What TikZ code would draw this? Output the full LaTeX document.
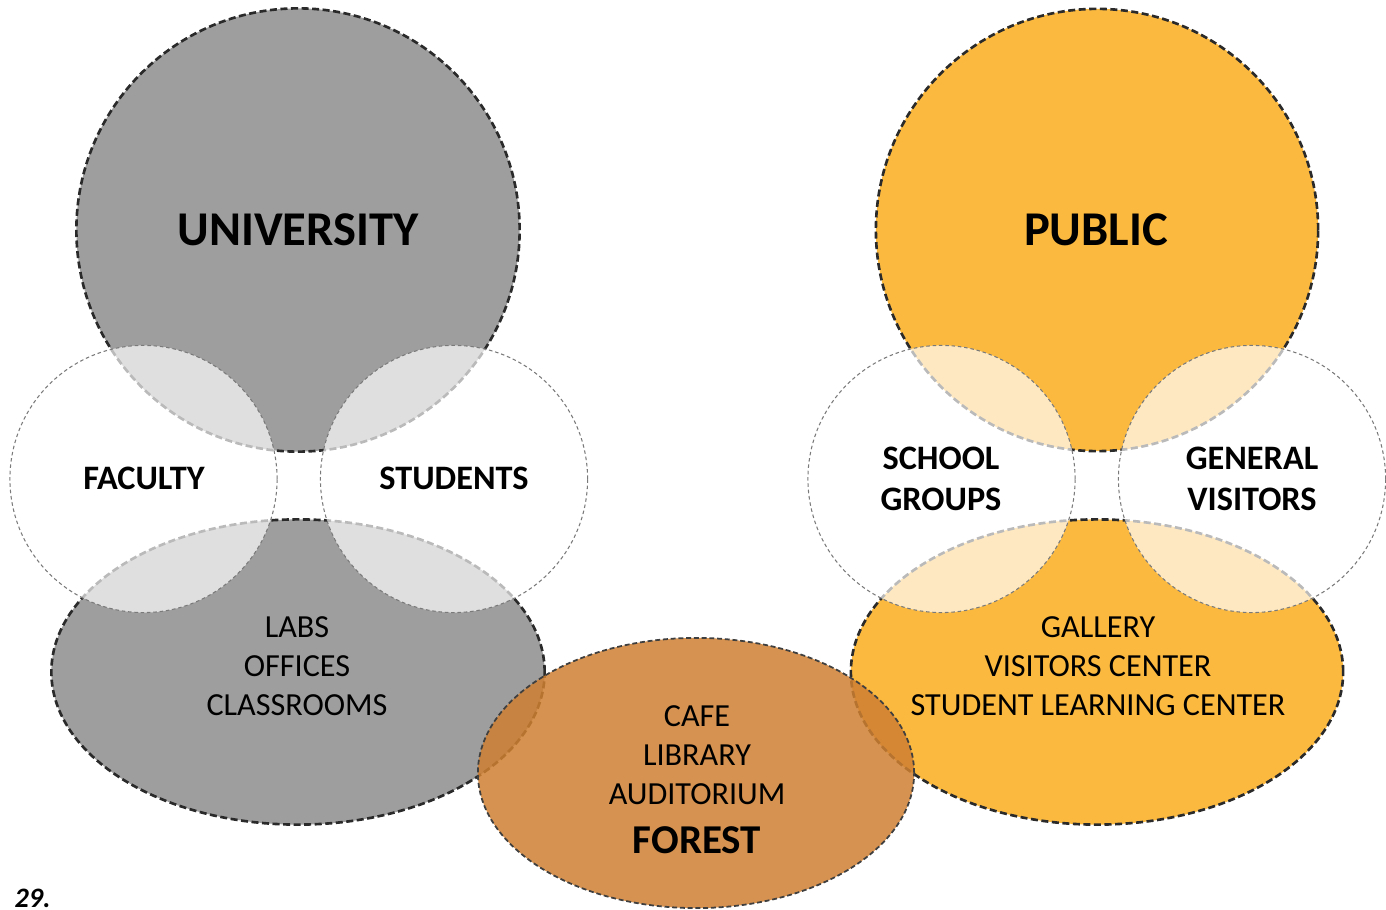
\documentclass[tikz,border=0pt]{standalone}
\usepackage{fontspec}
\setmainfont{Carlito}
\definecolor{univgray}{HTML}{9E9E9E}
\definecolor{pubor}{HTML}{FBB940}
\definecolor{forestc}{RGB}{207,127,49}
\definecolor{edgedark}{HTML}{2A2A2A}
\definecolor{edgelight}{HTML}{7A7A7A}
\tikzset{
  bigshape/.style={draw=edgedark, line width=0.75pt, dash pattern=on 2pt off 1pt},
  subcircle/.style={fill=white, fill opacity=0.68, draw=edgelight, draw opacity=1, line width=0.3pt, dash pattern=on 1pt off 0.8pt},
  forestshape/.style={fill=forestc, fill opacity=0.85, draw=edgedark!90, draw opacity=1, line width=0.5pt, dash pattern=on 1.4pt off 0.8pt},
  titletxt/.style={font={\fontsize{13.8}{16}\selectfont\bfseries}, text=black, inner sep=0pt},
  grouptxt/.style={font={\fontsize{9.75}{11.7}\selectfont\bfseries}, text=black, inner sep=0pt, align=center},
  roomtxt/.style={font={\fontsize{9.15}{11}\selectfont}, text=black, inner sep=0pt, align=center},
}
\begin{document}
\begin{tikzpicture}[x=0.01cm, y=-0.01cm]
\useasboundingbox (0,0) rectangle (1386,910);
% university
\path[fill=univgray, bigshape] (298,230) circle[radius=2.215cm];
\path[fill=univgray, bigshape] (298,672) ellipse[x radius=2.465cm, y radius=1.525cm];
% public
\path[fill=pubor, bigshape] (1097,230) circle[radius=2.21cm];
\path[fill=pubor, bigshape] (1097,672) ellipse[x radius=2.46cm, y radius=1.525cm];
% sub circles
\path[subcircle] (143.5,479) circle[radius=1.335cm];
\path[subcircle] (454,479) circle[radius=1.335cm];
\path[subcircle] (941.5,479) circle[radius=1.335cm];
\path[subcircle] (1252,479) circle[radius=1.335cm];
% forest
\path[forestshape] (696,773) ellipse[x radius=2.18cm, y radius=1.35cm];
% texts
\node[titletxt] (univ) at (298,230) {UNIVERSITY};
\node[titletxt] (pub) at (1096,230) {PUBLIC};
\node[grouptxt] (fac) at (144,478) {FACULTY};
\node[grouptxt] (stu) at (454,478) {STUDENTS};
\node[grouptxt] (sch) at (941,479) {SCHOOL\\GROUPS};
\node[grouptxt] (gen) at (1252,479) {GENERAL\\VISITORS};
\node[roomtxt] (labs) at (297,666) {LABS\\OFFICES\\CLASSROOMS};
\node[roomtxt] (gal) at (1098,666) {GALLERY\\VISITORS CENTER\\STUDENT LEARNING CENTER};
\node[roomtxt] (caf) at (697,755) {CAFE\\LIBRARY\\AUDITORIUM};
\node[font={\fontsize{11.65}{13}\selectfont\bfseries}, inner sep=0pt] (for) at (697,840) {FOREST};
\node[font={\fontsize{8}{10}\selectfont\bfseries\itshape}, inner sep=0pt, anchor=base west] (num) at (14,907) {29.};
\end{tikzpicture}
\end{document}
